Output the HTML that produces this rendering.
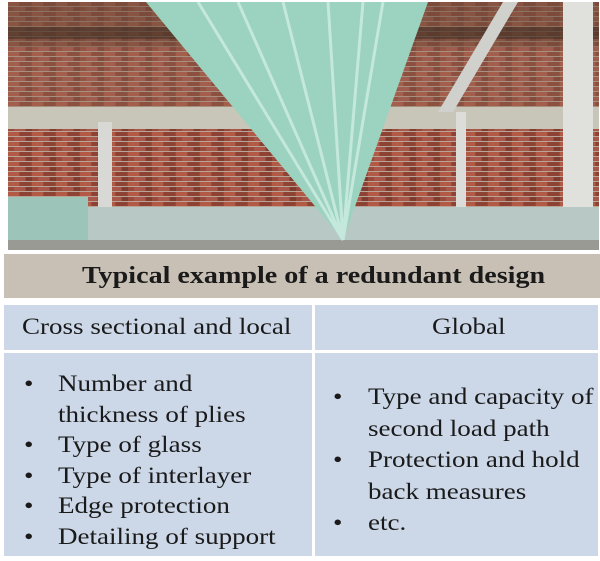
<!DOCTYPE html>
<html><head><style>
body{margin:0;width:600px;height:561px;background:#fff;position:relative;overflow:hidden;font-family:"Liberation Serif",serif;color:#1a1a1a}
.a{position:absolute}
.c{background:#ccd8e8}
.t{position:absolute;font-size:23.5px;white-space:nowrap;line-height:22px;transform-origin:0 0;transform:scaleX(1.15)}
</style></head><body>
<svg class="a" style="left:8px;top:2px" width="591" height="248" viewBox="0 0 591 248">
<defs>
<pattern id="b" width="24" height="10" patternUnits="userSpaceOnUse">
<rect width="24" height="10" fill="#9a4a3a"/>
<rect x="0" y="0" width="11" height="4" fill="#b25a45"/><rect x="12" y="0" width="11" height="4" fill="#8e4234"/>
<rect x="6" y="5" width="11" height="4" fill="#a9574a"/><rect x="18" y="5" width="6" height="4" fill="#7f3c30"/>
<rect x="0" y="4" width="24" height="1" fill="#b9a595"/><rect x="0" y="9" width="24" height="1" fill="#b9a595"/>
</pattern>
</defs>
<rect width="591" height="248" fill="url(#b)"/>
<rect width="591" height="45" fill="#6e5040" opacity=".6"/>
<rect y="25" width="591" height="12" fill="#3a2b22" opacity=".5"/>
<rect y="45" width="591" height="60" fill="#8a6a58" opacity=".35"/>
<rect y="105" width="591" height="22" fill="#c8c6b8"/>
<rect x="90" y="120" width="14" height="90" fill="#d8d8d4"/>
<rect x="448" y="110" width="10" height="100" fill="#dcdcd8"/>
<polygon points="430,110 445,110 510,0 495,0" fill="#d0d0cc"/>
<rect x="555" y="0" width="30" height="210" fill="#e0e0dc"/>
<rect y="205" width="591" height="38" fill="#b8c8c4"/>
<rect y="195" width="80" height="48" fill="#9cc4b8"/>
<rect y="238" width="591" height="10" fill="#9a9a94"/>
<polygon points="138,0 420,0 335,238" fill="#9cd2c0"/>
<polyline points="190,0 335,238 230,0 335,238 275,0 335,238 320,0 335,238 355,0 335,238 375,0" fill="none" stroke="#c4e8dc" stroke-width="3"/>
</svg>
<div class="a" style="left:4px;top:254px;width:596px;height:44px;background:#c8c0b5"></div>
<div class="t" style="left:82px;top:265px;font-weight:bold;font-size:24px;transform:scaleX(1.17)">Typical example of a redundant design</div>
<div class="a c" style="left:4px;top:305px;width:308px;height:45px"></div>
<div class="a c" style="left:315px;top:305px;width:283px;height:45px"></div>
<div class="a c" style="left:4px;top:353px;width:308px;height:203px"></div>
<div class="a c" style="left:315px;top:353px;width:283px;height:203px"></div>
<div class="t" style="left:22px;top:316px">Cross sectional and local</div>
<div class="t" style="left:432px;top:316px">Global</div>
<div class="t" style="left:24px;top:369px;line-height:30.5px">•<br><br>•<br>•<br>•<br>•</div>
<div class="t" style="left:58px;top:369px;line-height:30.5px">Number and<br>thickness of plies<br>Type of glass<br>Type of interlayer<br>Edge protection<br>Detailing of support</div>
<div class="t" style="left:333px;top:382px;line-height:31.5px">•<br><br>•<br><br>•</div>
<div class="t" style="left:368px;top:382px;line-height:31.5px">Type and capacity of<br>second load path<br>Protection and hold<br>back measures<br>etc.</div>
</body></html>
